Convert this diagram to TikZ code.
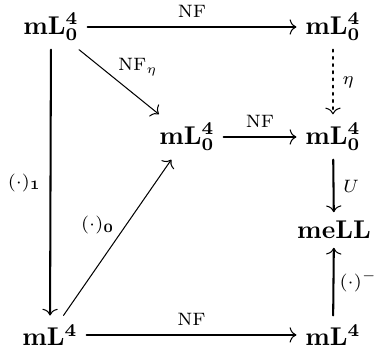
\documentclass[tikz,border=0pt]{standalone}
\usepackage{amsmath,amssymb}
\usepackage{tikz}
\usetikzlibrary{arrows.meta}

\begin{document}
\begin{tikzpicture}[>={To[line width=0.4pt 0,length=2.6pt,width=6pt]},line cap=round,
  arr/.style={->,thick},
  thinarr/.style={->},
  lbl/.style={font=\scriptsize}]
\useasboundingbox (0,0) rectangle (5.138,4.836);
\node (tl) at (0.699,4.466) {$\mathbf{mL^4_0}$};
\node (tr) at (4.562,4.466) {$\mathbf{mL^4_0}$};
\node (mid) at (2.562,2.959) {$\mathbf{mL^4_0}$};
\node (mr) at (4.562,2.959) {$\mathbf{mL^4_0}$};
\node (ell) at (4.576,1.685) {$\mathbf{meLL}$};
\node (bl) at (0.685,0.247) {$\mathbf{mL^4}$};
\node (br) at (4.562,0.247) {$\mathbf{mL^4}$};
\draw[arr] (tl) -- node[above,lbl]{$\mathrm{NF}$} (tr);
\draw[arr] (mid) -- node[above,lbl]{$\mathrm{NF}$} (mr);
\draw[arr] (bl) -- node[above,lbl]{$\mathrm{NF}$} (br);
\draw[arr] (tl) -- node[left,lbl]{$(\cdot)_{\mathbf{1}}$} (bl);
\draw[arr,dotted] (tr) -- node[right,lbl]{$\eta$} (mr);
\draw[arr] (mr) -- node[right,lbl]{$U$} (ell);
\draw[arr] (br) -- node[right,inner sep=2pt,lbl]{$(\cdot)^-$} (ell);
\draw[thinarr] (tl) -- node[pos=0.45,above right,inner sep=1pt,lbl]{$\mathrm{NF}_\eta$} (mid);
\draw[thinarr] (bl) -- node[above left,inner sep=1pt,lbl]{$(\cdot)_{\mathbf{0}}$} (mid);
\end{tikzpicture}
\end{document}
